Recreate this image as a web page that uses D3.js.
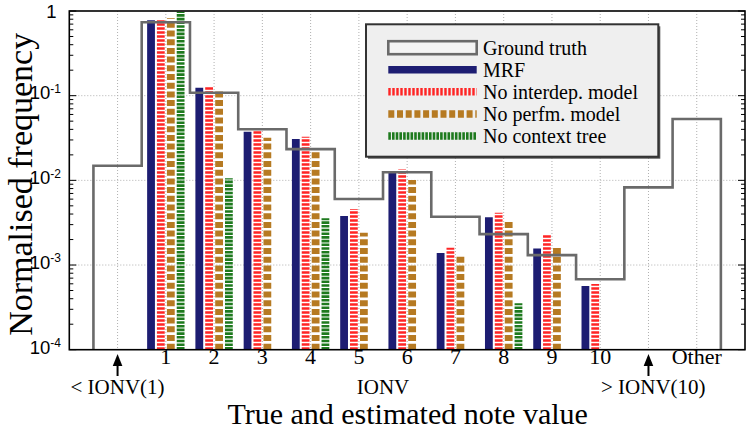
<!DOCTYPE html>
<html>
<head>
<meta charset="utf-8">
<script src="https://cdn.jsdelivr.net/npm/d3@7"></script>
<style>
  html, body { margin: 0; padding: 0; background: #fff; }
  svg { display: block; }
</style>
</head>
<body>
<svg id="chart" width="747" height="434"></svg>
<script>
// ---------------- data ----------------
const categoryIndex = [0, 1, 2, 3, 4, 5, 6, 7, 8, 9, 10, 11, 12];
const tickLabels = ["1", "2", "3", "4", "5", "6", "7", "8", "9", "10", "Other"];
const tickLabelPos = [1, 2, 3, 4, 5, 6, 7, 8, 9, 10, 12];
const groupLabels = ["< IONV(1)", "IONV", "> IONV(10)"];
const groupLabelPos = [0, 5.5, 11.1];
const arrowPos = [0, 11];
const yTickValues = [1, 0.1, 0.01, 0.001, 0.0001];
const yTickExp = ["", "-1", "-2", "-3", "-4"];

const groundTruth = [0.0149, 0.735, 0.1084, 0.0401, 0.0234, 0.00602, 0.01245, 0.00372, 0.00232, 0.00131, 0.000678, 0.00827, 0.053];
const mrf        = [null, 0.776, 0.124, 0.0376, 0.0308, 0.00379, 0.0129, 0.00139, 0.00366, 0.00157, 0.000565, null, null];
const noInterdep = [null, 0.776, 0.130, 0.0393, 0.0328, 0.00458, 0.0135, 0.00160, 0.00415, 0.00228, 0.000597, null, null];
const noPerfm    = [null, 0.820, 0.1135, 0.0319, 0.0214, 0.00241, 0.0101, 0.00135, 0.00340, 0.00165, null, null, null];
const noContext  = [null, 0.980, 0.01057, null, 0.00356, null, null, null, 0.000353, null, null, null, null];

const seriesNames = ["Ground truth", "MRF", "No interdep. model", "No perfm. model", "No context tree"];

// ---------------- layout ----------------
const svg = d3.select("#chart");
const L = 69.3, R = 745, T = 11, B = 349.7;
const x = d3.scaleLinear().domain([-1, 13]).range([L, R]);
const y = d3.scaleLog().domain([1e-4, 1]).range([B, T]);

const serif = "'Liberation Serif', 'Times New Roman', serif";
const sans = "'Liberation Sans', Arial, sans-serif";

// grid
const grid = svg.append("g");
grid.selectAll("line.v").data(categoryIndex).enter().append("line")
  .attr("x1", d => x(d)).attr("x2", d => x(d)).attr("y1", T).attr("y2", B)
  .attr("stroke", "#b0b0b0").attr("stroke-width", 1).attr("stroke-dasharray", "1,2");
grid.selectAll("line.h").data([0.1, 0.01, 0.001]).enter().append("line")
  .attr("x1", L).attr("x2", R).attr("y1", d => y(d)).attr("y2", d => y(d))
  .attr("stroke", "#b0b0b0").attr("stroke-width", 1).attr("stroke-dasharray", "1,2");

// bars as thick dashed impulses
const series = [
  { data: mrf, off: -14.8, color: "#1d1d72", dash: null },
  { data: noInterdep, off: -5, color: "#ff2424", dash: "2.4,1.6" },
  { data: noPerfm, off: 5, color: "#b67a22", dash: "6,2.7" },
  { data: noContext, off: 14.8, color: "#1e7a1e", dash: "2.6,1.1" }
];
const bars = svg.append("g");
series.forEach(s => {
  const pts = categoryIndex.filter(i => s.data[i] != null);
  bars.selectAll(null).data(pts).enter().append("line")
    .attr("x1", i => x(i) + s.off).attr("x2", i => x(i) + s.off)
    .attr("y1", B).attr("y2", i => Math.max(T, y(s.data[i])))
    .attr("stroke", s.color).attr("stroke-width", 7.8)
    .attr("stroke-dasharray", s.dash);
});

// ground truth step line
const gtPts = [[-0.5, 1e-4]];
categoryIndex.forEach(i => { gtPts.push([i - 0.5, groundTruth[i]]); gtPts.push([i + 0.5, groundTruth[i]]); });
gtPts.push([12.5, 1e-4]);
svg.append("path")
  .attr("d", d3.line().x(d => x(d[0])).y(d => y(d[1]))(gtPts))
  .attr("fill", "none").attr("stroke", "#6a6a6a").attr("stroke-width", 2.6)
  .attr("stroke-linejoin", "miter");

// minor/major ticks on left and right
const minor = [];
for (let e = -4; e < 0; e++) for (let m = 2; m <= 9; m++) minor.push(m * Math.pow(10, e));
const tk = svg.append("g").attr("stroke", "#000").attr("stroke-width", 1);
tk.selectAll(null).data(minor).enter().append("line")
  .attr("x1", L).attr("x2", L + 4).attr("y1", d => y(d)).attr("y2", d => y(d));
tk.selectAll(null).data(minor).enter().append("line")
  .attr("x1", R).attr("x2", R - 4).attr("y1", d => y(d)).attr("y2", d => y(d));
tk.selectAll(null).data(yTickValues).enter().append("line")
  .attr("x1", L).attr("x2", L + 7).attr("y1", d => y(d)).attr("y2", d => y(d));
tk.selectAll(null).data(yTickValues).enter().append("line")
  .attr("x1", R).attr("x2", R - 7).attr("y1", d => y(d)).attr("y2", d => y(d));

// frame
svg.append("rect").attr("x", L).attr("y", T).attr("width", R - L).attr("height", B - T)
  .attr("fill", "none").attr("stroke", "#000").attr("stroke-width", 1.6);

// y tick labels
const yl = svg.append("g").attr("font-family", sans).attr("fill", "#000");
yTickValues.forEach((v, i) => {
  const t = yl.append("text").attr("x", 61).attr("y", y(v) + 3.8).attr("text-anchor", "end")
    .attr("font-size", 18.5);
  if (yTickExp[i] === "") {
    t.attr("x", 56.5).attr("y", y(v) + 6.5).text("1");
  } else {
    t.append("tspan").text("10");
    t.append("tspan").attr("font-size", 12).attr("dy", -6.5).text(yTickExp[i]);
  }
});

// x tick labels
const xl = svg.append("g").attr("font-family", serif).attr("fill", "#000");
xl.selectAll(null).data(tickLabels).enter().append("text")
  .attr("x", (d, i) => x(tickLabelPos[i])).attr("y", 364)
  .attr("text-anchor", "middle").attr("font-size", 22).text(d => d);
xl.selectAll(null).data(groupLabels).enter().append("text")
  .attr("x", (d, i) => x(groupLabelPos[i])).attr("y", 394)
  .attr("text-anchor", "middle").attr("font-size", 21).text(d => d);

// arrows
arrowPos.forEach(p => {
  svg.append("line").attr("x1", x(p)).attr("x2", x(p)).attr("y1", 362).attr("y2", 376)
    .attr("stroke", "#000").attr("stroke-width", 2);
  svg.append("path")
    .attr("d", `M${x(p)},354 L${x(p) - 4.8},366 L${x(p) + 4.8},366 Z`).attr("fill", "#000");
});

// axis titles
svg.append("text").attr("x", (L + R) / 2 + 0.5).attr("y", 424).attr("text-anchor", "middle")
  .attr("font-family", serif).attr("font-size", 30).text("True and estimated note value");
svg.append("text").attr("transform", `translate(32,${(T + B) / 2 + 4}) rotate(-90)`)
  .attr("text-anchor", "middle").attr("font-family", serif).attr("font-size", 34)
  .text("Normalised frequency");

// legend
const lg = svg.append("g");
const lx = 366, ly = 24.3, lw = 292.3, lh = 132.4;
lg.append("rect").attr("x", lx + 2).attr("y", ly + 2).attr("width", lw).attr("height", lh).attr("fill", "#555");
lg.append("rect").attr("x", lx).attr("y", ly).attr("width", lw).attr("height", lh)
  .attr("fill", "#efefef").attr("stroke", "#333").attr("stroke-width", 2);
const rowY = d3.scaleLinear().domain([0, 4]).range([47.7, 136]);
const sx1 = 388.3, sx2 = 476.7;
// ground truth swatch
lg.append("rect").attr("x", sx1).attr("y", rowY(0) - 6.5).attr("width", sx2 - sx1).attr("height", 13)
  .attr("fill", "#f4f4f4").attr("stroke", "#6a6a6a").attr("stroke-width", 2.6);
series.forEach((s, i) => {
  lg.append("line").attr("x1", sx1).attr("x2", sx2).attr("y1", rowY(i + 1)).attr("y2", rowY(i + 1))
    .attr("stroke", s.color).attr("stroke-width", 7.5).attr("stroke-dasharray", s.dash);
});
lg.selectAll(null).data(seriesNames).enter().append("text")
  .attr("x", 483).attr("y", (d, i) => rowY(i) + 7)
  .attr("font-family", serif).attr("font-size", 20).text(d => d);
</script>
</body>
</html>
